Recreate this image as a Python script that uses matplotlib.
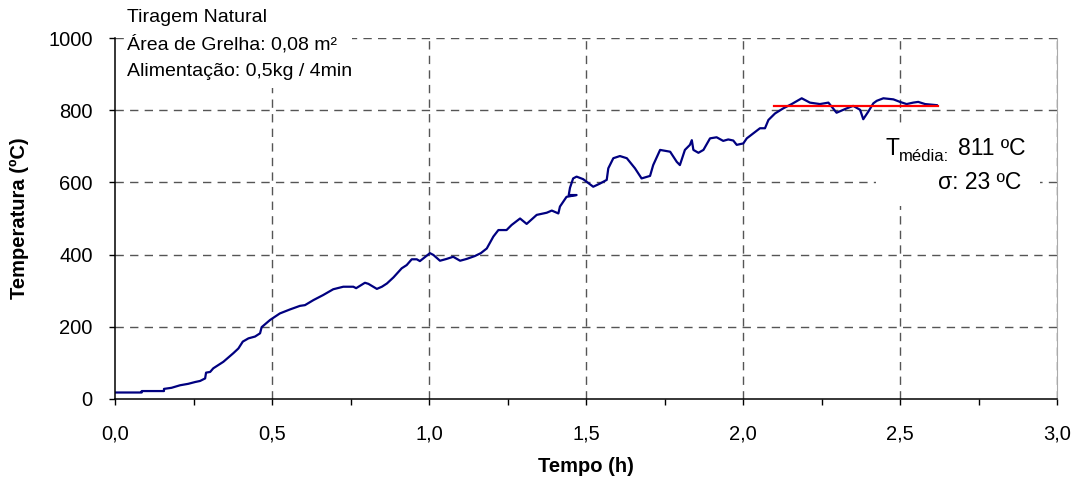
import numpy as np
import matplotlib.pyplot as plt
from matplotlib.patches import Rectangle
from matplotlib.ticker import MultipleLocator, FuncFormatter

plt.rcParams['font.family'] = ['Liberation Sans', 'DejaVu Sans']

# tempo (h) e temperatura (ºC)
tempo = [0.0, 0.085, 0.085, 0.156, 0.156, 0.18, 0.207, 0.233, 0.255, 0.271, 0.287, 0.29,
         0.303, 0.313, 0.345, 0.377, 0.393, 0.407, 0.425, 0.446, 0.462, 0.467, 0.494,
         0.525, 0.557, 0.589, 0.605, 0.632, 0.663, 0.695, 0.727, 0.759, 0.768, 0.796,
         0.807, 0.834, 0.85, 0.866, 0.887, 0.913, 0.929, 0.945, 0.961, 0.971, 1.003,
         1.014, 1.035, 1.056, 1.077, 1.099, 1.12, 1.146, 1.165, 1.184, 1.205, 1.221,
         1.247, 1.263, 1.29, 1.311, 1.343, 1.375, 1.391, 1.412, 1.417, 1.438, 1.47,
         1.445, 1.449, 1.459, 1.47, 1.491, 1.523, 1.545, 1.566, 1.571, 1.587, 1.608,
         1.63, 1.656, 1.677, 1.704, 1.714, 1.736, 1.768, 1.789, 1.799, 1.815, 1.831,
         1.837, 1.842, 1.858, 1.874, 1.895, 1.916, 1.937, 1.953, 1.969, 1.98, 2.001,
         2.012, 2.033, 2.054, 2.07, 2.081, 2.102, 2.128, 2.155, 2.187, 2.213, 2.245,
         2.272, 2.298, 2.33, 2.351, 2.373, 2.383, 2.399, 2.415, 2.426, 2.447, 2.479,
         2.5, 2.521, 2.542, 2.558, 2.58, 2.617]
temperatura = [18, 18, 22, 22, 28, 31, 38, 42, 47, 50, 57, 73,
               75, 85, 103, 127, 140, 159, 168, 173, 182, 199, 219,
               237, 248, 258, 260, 274, 288, 304, 311, 311, 307, 322,
               319, 305, 311, 320, 337, 362, 371, 387, 387, 382, 404,
               399, 383, 388, 394, 383, 388, 396, 404, 417, 450, 468,
               468, 482, 500, 485, 510, 516, 522, 514, 533, 560, 565,
               565, 585, 611, 616, 609, 588, 597, 607, 639, 667, 673,
               667, 639, 611, 618, 648, 690, 685, 657, 648, 690, 704,
               717, 690, 682, 690, 722, 725, 715, 719, 716, 704, 708,
               722, 736, 750, 750, 773, 791, 805, 817, 833, 821, 817,
               821, 793, 805, 812, 801, 775, 796, 819, 826, 833, 830,
               823, 817, 821, 823, 817, 814]

t_media = 811
sigma = 23
media_inicio, media_fim = 2.10, 2.62
x_grid = [0.5, 1.0, 1.5, 2.0, 2.5, 3.0]
y_grid = [200, 400, 600, 800, 1000]

fig = plt.figure(figsize=(10.8, 4.83), dpi=100)
ax = fig.add_axes([115 / 1080, 84 / 483, 942 / 1080, 361 / 483])

for v in x_grid:
    ax.axvline(v, color='#555555', ls=(0, (6, 4.5)), lw=1.0, zorder=1)
for v in y_grid:
    ax.axhline(v, color='#555555', ls=(0, (6, 4.5)), lw=1.0, zorder=1)

ax.plot(tempo, temperatura, color='#000080', lw=1.6, zorder=3)
ax.plot([media_inicio, media_fim], [t_media, t_media], color='#ff0000', lw=1.6, zorder=4)

ax.set_xlim(0, 3)
ax.set_ylim(0, 1000)
ax.xaxis.set_major_locator(MultipleLocator(0.5))
ax.xaxis.set_minor_locator(MultipleLocator(0.25))
ax.yaxis.set_major_locator(MultipleLocator(200))
ax.xaxis.set_major_formatter(FuncFormatter(lambda v, p: f'{v:.1f}'.replace('.', ',')))

ax.spines['top'].set_visible(False)
ax.spines['right'].set_color('#aaaaaa')
ax.spines['left'].set_linewidth(1.1)
ax.spines['bottom'].set_linewidth(1.1)
ax.spines['left'].set_zorder(5)
ax.spines['bottom'].set_zorder(5)

ax.tick_params(axis='both', which='both', direction='out', length=4, width=1.0,
               labelsize=14.5, right=False, top=False)
ax.tick_params(axis='x', pad=14)
ax.tick_params(axis='y', pad=12)

ax.set_xlabel('Tempo (h)', fontsize=14.5, fontweight='bold', labelpad=10)
ax.set_ylabel('Temperatura (ºC)', fontsize=14.5, fontweight='bold', labelpad=14)

# caixa de texto superior esquerda
fig.patches.append(Rectangle((125 / 1080, 1 - 88 / 483), 227 / 1080, 88 / 483,
                             transform=fig.transFigure, fc='white', ec='none', zorder=5))
info = ['Tiragem Natural', 'Área de Grelha: 0,08 m²', 'Alimentação: 0,5kg / 4min']
for i, linha in enumerate(info):
    fig.text(127 / 1080, 1 - (17 + 27 * i) / 483, linha, fontsize=14,
             va='center', ha='left', zorder=6)

# caixa com media e desvio
fig.patches.append(Rectangle((876 / 1080, 1 - 206 / 483), 164 / 1080, 82 / 483,
                             transform=fig.transFigure, fc='white', ec='none', zorder=5))
fig.canvas.draw()
r = fig.canvas.get_renderer()
base = 1 - 155 / 483
t1 = fig.text(1025 / 1080, base, f'{t_media} ºC', fontsize=16.5, va='baseline', ha='right', zorder=6)
x0 = t1.get_window_extent(r).x0
t2 = fig.text((x0 - 8) / 1080, base - 6 / 483, 'média:', fontsize=12, va='baseline', ha='right', zorder=6)
x1 = t2.get_window_extent(r).x0
fig.text(x1 / 1080, base, 'T', fontsize=16.5, va='baseline', ha='right', zorder=6)
fig.text(1021 / 1080, 1 - 183 / 483, f'σ: {sigma} ºC', fontsize=16.5,
         va='center', ha='right', zorder=6)

fig.savefig('out.png', dpi=100)
